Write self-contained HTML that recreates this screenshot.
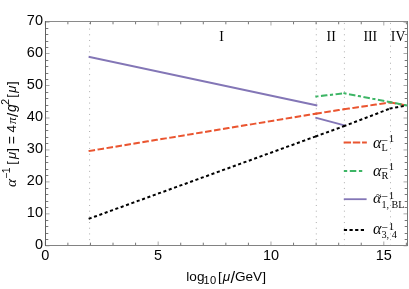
<!DOCTYPE html>
<html><head><meta charset="utf-8"><title>plot</title>
<style>
html,body{margin:0;padding:0;background:#fff;}
body{width:409px;height:289px;overflow:hidden;font-family:"Liberation Sans",sans-serif;}
svg{display:block;position:absolute;left:0;top:0;}
.k{font-family:"Liberation Sans",sans-serif;font-size:14.5px;fill:#000;}
.s{font-family:"Liberation Serif",serif;fill:#000;}
</style></head><body>
<svg width="409" height="289" viewBox="0 0 409 289">
<rect x="0" y="0" width="409" height="289" fill="#fff"/>
<line x1="89.6" y1="245.8" x2="89.6" y2="22" stroke="#adadad" stroke-width="1" stroke-dasharray="1 4.69"/>
<line x1="316.3" y1="245.8" x2="316.3" y2="22" stroke="#adadad" stroke-width="1" stroke-dasharray="1 4.69"/>
<line x1="344.4" y1="245.8" x2="344.4" y2="22" stroke="#adadad" stroke-width="1" stroke-dasharray="1 4.69"/>
<line x1="390.5" y1="245.8" x2="390.5" y2="22" stroke="#adadad" stroke-width="1" stroke-dasharray="1 4.69"/>
<line x1="45.33" y1="245.5" x2="45.33" y2="241.5" stroke="#a8a8a8" stroke-width="1"/>
<line x1="45.33" y1="21.5" x2="45.33" y2="25.5" stroke="#a8a8a8" stroke-width="1"/>
<line x1="67.89" y1="245.5" x2="67.89" y2="242.7" stroke="#777777" stroke-width="1"/>
<line x1="67.89" y1="21.5" x2="67.89" y2="24.3" stroke="#777777" stroke-width="1"/>
<line x1="90.46" y1="245.5" x2="90.46" y2="242.7" stroke="#777777" stroke-width="1"/>
<line x1="90.46" y1="21.5" x2="90.46" y2="24.3" stroke="#777777" stroke-width="1"/>
<line x1="113.03" y1="245.5" x2="113.03" y2="242.7" stroke="#777777" stroke-width="1"/>
<line x1="113.03" y1="21.5" x2="113.03" y2="24.3" stroke="#777777" stroke-width="1"/>
<line x1="135.59" y1="245.5" x2="135.59" y2="242.7" stroke="#777777" stroke-width="1"/>
<line x1="135.59" y1="21.5" x2="135.59" y2="24.3" stroke="#777777" stroke-width="1"/>
<line x1="158.16" y1="245.5" x2="158.16" y2="241.5" stroke="#a8a8a8" stroke-width="1"/>
<line x1="158.16" y1="21.5" x2="158.16" y2="25.5" stroke="#a8a8a8" stroke-width="1"/>
<line x1="180.72" y1="245.5" x2="180.72" y2="242.7" stroke="#777777" stroke-width="1"/>
<line x1="180.72" y1="21.5" x2="180.72" y2="24.3" stroke="#777777" stroke-width="1"/>
<line x1="203.29" y1="245.5" x2="203.29" y2="242.7" stroke="#777777" stroke-width="1"/>
<line x1="203.29" y1="21.5" x2="203.29" y2="24.3" stroke="#777777" stroke-width="1"/>
<line x1="225.85" y1="245.5" x2="225.85" y2="242.7" stroke="#777777" stroke-width="1"/>
<line x1="225.85" y1="21.5" x2="225.85" y2="24.3" stroke="#777777" stroke-width="1"/>
<line x1="248.42" y1="245.5" x2="248.42" y2="242.7" stroke="#777777" stroke-width="1"/>
<line x1="248.42" y1="21.5" x2="248.42" y2="24.3" stroke="#777777" stroke-width="1"/>
<line x1="270.98" y1="245.5" x2="270.98" y2="241.5" stroke="#a8a8a8" stroke-width="1"/>
<line x1="270.98" y1="21.5" x2="270.98" y2="25.5" stroke="#a8a8a8" stroke-width="1"/>
<line x1="293.55" y1="245.5" x2="293.55" y2="242.7" stroke="#777777" stroke-width="1"/>
<line x1="293.55" y1="21.5" x2="293.55" y2="24.3" stroke="#777777" stroke-width="1"/>
<line x1="316.11" y1="245.5" x2="316.11" y2="242.7" stroke="#777777" stroke-width="1"/>
<line x1="316.11" y1="21.5" x2="316.11" y2="24.3" stroke="#777777" stroke-width="1"/>
<line x1="338.68" y1="245.5" x2="338.68" y2="242.7" stroke="#777777" stroke-width="1"/>
<line x1="338.68" y1="21.5" x2="338.68" y2="24.3" stroke="#777777" stroke-width="1"/>
<line x1="361.24" y1="245.5" x2="361.24" y2="242.7" stroke="#777777" stroke-width="1"/>
<line x1="361.24" y1="21.5" x2="361.24" y2="24.3" stroke="#777777" stroke-width="1"/>
<line x1="383.81" y1="245.5" x2="383.81" y2="241.5" stroke="#a8a8a8" stroke-width="1"/>
<line x1="383.81" y1="21.5" x2="383.81" y2="25.5" stroke="#a8a8a8" stroke-width="1"/>
<line x1="406.37" y1="245.5" x2="406.37" y2="242.7" stroke="#777777" stroke-width="1"/>
<line x1="406.37" y1="21.5" x2="406.37" y2="24.3" stroke="#777777" stroke-width="1"/>
<line x1="45.5" y1="245.80" x2="49.5" y2="245.80" stroke="#a8a8a8" stroke-width="1"/>
<line x1="407.5" y1="245.80" x2="403.5" y2="245.80" stroke="#a8a8a8" stroke-width="1"/>
<line x1="45.5" y1="239.50" x2="48.3" y2="239.50" stroke="#777777" stroke-width="1"/>
<line x1="407.5" y1="239.50" x2="404.7" y2="239.50" stroke="#777777" stroke-width="1"/>
<line x1="45.5" y1="233.50" x2="48.3" y2="233.50" stroke="#777777" stroke-width="1"/>
<line x1="407.5" y1="233.50" x2="404.7" y2="233.50" stroke="#777777" stroke-width="1"/>
<line x1="45.5" y1="226.50" x2="48.3" y2="226.50" stroke="#777777" stroke-width="1"/>
<line x1="407.5" y1="226.50" x2="404.7" y2="226.50" stroke="#777777" stroke-width="1"/>
<line x1="45.5" y1="220.50" x2="48.3" y2="220.50" stroke="#777777" stroke-width="1"/>
<line x1="407.5" y1="220.50" x2="404.7" y2="220.50" stroke="#777777" stroke-width="1"/>
<line x1="45.5" y1="213.85" x2="49.5" y2="213.85" stroke="#a8a8a8" stroke-width="1"/>
<line x1="407.5" y1="213.85" x2="403.5" y2="213.85" stroke="#a8a8a8" stroke-width="1"/>
<line x1="45.5" y1="207.50" x2="48.3" y2="207.50" stroke="#777777" stroke-width="1"/>
<line x1="407.5" y1="207.50" x2="404.7" y2="207.50" stroke="#777777" stroke-width="1"/>
<line x1="45.5" y1="201.50" x2="48.3" y2="201.50" stroke="#777777" stroke-width="1"/>
<line x1="407.5" y1="201.50" x2="404.7" y2="201.50" stroke="#777777" stroke-width="1"/>
<line x1="45.5" y1="194.50" x2="48.3" y2="194.50" stroke="#777777" stroke-width="1"/>
<line x1="407.5" y1="194.50" x2="404.7" y2="194.50" stroke="#777777" stroke-width="1"/>
<line x1="45.5" y1="188.50" x2="48.3" y2="188.50" stroke="#777777" stroke-width="1"/>
<line x1="407.5" y1="188.50" x2="404.7" y2="188.50" stroke="#777777" stroke-width="1"/>
<line x1="45.5" y1="181.90" x2="49.5" y2="181.90" stroke="#a8a8a8" stroke-width="1"/>
<line x1="407.5" y1="181.90" x2="403.5" y2="181.90" stroke="#a8a8a8" stroke-width="1"/>
<line x1="45.5" y1="175.50" x2="48.3" y2="175.50" stroke="#777777" stroke-width="1"/>
<line x1="407.5" y1="175.50" x2="404.7" y2="175.50" stroke="#777777" stroke-width="1"/>
<line x1="45.5" y1="169.50" x2="48.3" y2="169.50" stroke="#777777" stroke-width="1"/>
<line x1="407.5" y1="169.50" x2="404.7" y2="169.50" stroke="#777777" stroke-width="1"/>
<line x1="45.5" y1="162.50" x2="48.3" y2="162.50" stroke="#777777" stroke-width="1"/>
<line x1="407.5" y1="162.50" x2="404.7" y2="162.50" stroke="#777777" stroke-width="1"/>
<line x1="45.5" y1="156.50" x2="48.3" y2="156.50" stroke="#777777" stroke-width="1"/>
<line x1="407.5" y1="156.50" x2="404.7" y2="156.50" stroke="#777777" stroke-width="1"/>
<line x1="45.5" y1="149.95" x2="49.5" y2="149.95" stroke="#a8a8a8" stroke-width="1"/>
<line x1="407.5" y1="149.95" x2="403.5" y2="149.95" stroke="#a8a8a8" stroke-width="1"/>
<line x1="45.5" y1="143.50" x2="48.3" y2="143.50" stroke="#777777" stroke-width="1"/>
<line x1="407.5" y1="143.50" x2="404.7" y2="143.50" stroke="#777777" stroke-width="1"/>
<line x1="45.5" y1="137.50" x2="48.3" y2="137.50" stroke="#777777" stroke-width="1"/>
<line x1="407.5" y1="137.50" x2="404.7" y2="137.50" stroke="#777777" stroke-width="1"/>
<line x1="45.5" y1="130.50" x2="48.3" y2="130.50" stroke="#777777" stroke-width="1"/>
<line x1="407.5" y1="130.50" x2="404.7" y2="130.50" stroke="#777777" stroke-width="1"/>
<line x1="45.5" y1="124.50" x2="48.3" y2="124.50" stroke="#777777" stroke-width="1"/>
<line x1="407.5" y1="124.50" x2="404.7" y2="124.50" stroke="#777777" stroke-width="1"/>
<line x1="45.5" y1="118.00" x2="49.5" y2="118.00" stroke="#a8a8a8" stroke-width="1"/>
<line x1="407.5" y1="118.00" x2="403.5" y2="118.00" stroke="#a8a8a8" stroke-width="1"/>
<line x1="45.5" y1="111.50" x2="48.3" y2="111.50" stroke="#777777" stroke-width="1"/>
<line x1="407.5" y1="111.50" x2="404.7" y2="111.50" stroke="#777777" stroke-width="1"/>
<line x1="45.5" y1="105.50" x2="48.3" y2="105.50" stroke="#777777" stroke-width="1"/>
<line x1="407.5" y1="105.50" x2="404.7" y2="105.50" stroke="#777777" stroke-width="1"/>
<line x1="45.5" y1="98.50" x2="48.3" y2="98.50" stroke="#777777" stroke-width="1"/>
<line x1="407.5" y1="98.50" x2="404.7" y2="98.50" stroke="#777777" stroke-width="1"/>
<line x1="45.5" y1="92.50" x2="48.3" y2="92.50" stroke="#777777" stroke-width="1"/>
<line x1="407.5" y1="92.50" x2="404.7" y2="92.50" stroke="#777777" stroke-width="1"/>
<line x1="45.5" y1="85.50" x2="49.5" y2="85.50" stroke="#a8a8a8" stroke-width="1"/>
<line x1="407.5" y1="85.50" x2="403.5" y2="85.50" stroke="#a8a8a8" stroke-width="1"/>
<line x1="45.5" y1="79.50" x2="48.3" y2="79.50" stroke="#777777" stroke-width="1"/>
<line x1="407.5" y1="79.50" x2="404.7" y2="79.50" stroke="#777777" stroke-width="1"/>
<line x1="45.5" y1="73.50" x2="48.3" y2="73.50" stroke="#777777" stroke-width="1"/>
<line x1="407.5" y1="73.50" x2="404.7" y2="73.50" stroke="#777777" stroke-width="1"/>
<line x1="45.5" y1="66.50" x2="48.3" y2="66.50" stroke="#777777" stroke-width="1"/>
<line x1="407.5" y1="66.50" x2="404.7" y2="66.50" stroke="#777777" stroke-width="1"/>
<line x1="45.5" y1="60.50" x2="48.3" y2="60.50" stroke="#777777" stroke-width="1"/>
<line x1="407.5" y1="60.50" x2="404.7" y2="60.50" stroke="#777777" stroke-width="1"/>
<line x1="45.5" y1="53.50" x2="49.5" y2="53.50" stroke="#a8a8a8" stroke-width="1"/>
<line x1="407.5" y1="53.50" x2="403.5" y2="53.50" stroke="#a8a8a8" stroke-width="1"/>
<line x1="45.5" y1="47.50" x2="48.3" y2="47.50" stroke="#777777" stroke-width="1"/>
<line x1="407.5" y1="47.50" x2="404.7" y2="47.50" stroke="#777777" stroke-width="1"/>
<line x1="45.5" y1="41.50" x2="48.3" y2="41.50" stroke="#777777" stroke-width="1"/>
<line x1="407.5" y1="41.50" x2="404.7" y2="41.50" stroke="#777777" stroke-width="1"/>
<line x1="45.5" y1="34.50" x2="48.3" y2="34.50" stroke="#777777" stroke-width="1"/>
<line x1="407.5" y1="34.50" x2="404.7" y2="34.50" stroke="#777777" stroke-width="1"/>
<line x1="45.5" y1="28.50" x2="48.3" y2="28.50" stroke="#777777" stroke-width="1"/>
<line x1="407.5" y1="28.50" x2="404.7" y2="28.50" stroke="#777777" stroke-width="1"/>
<line x1="45.5" y1="22.15" x2="49.5" y2="22.15" stroke="#a8a8a8" stroke-width="1"/>
<line x1="407.5" y1="22.15" x2="403.5" y2="22.15" stroke="#a8a8a8" stroke-width="1"/>
<line x1="89.6" y1="57.0" x2="316.3" y2="105.2" stroke="#8376b6" stroke-width="2.0" stroke-linecap="square"/>
<line x1="316.3" y1="117.9" x2="344.4" y2="125.4" stroke="#8376b6" stroke-width="2.0" stroke-linecap="square"/>
<line x1="89.6" y1="150.9" x2="316.3" y2="113.6" stroke="#ea5530" stroke-width="2.0" stroke-linecap="square" stroke-dasharray="4.54 4.54"/>
<line x1="316.3" y1="113.6" x2="344.4" y2="109.2" stroke="#ea5530" stroke-width="2.0" stroke-linecap="square" stroke-dasharray="4.54 4.54"/>
<line x1="344.4" y1="109.2" x2="390.5" y2="102.4" stroke="#ea5530" stroke-width="2.0" stroke-linecap="square" stroke-dasharray="4.54 4.54"/>
<line x1="390.5" y1="102.4" x2="406.4" y2="105.4" stroke="#ea5530" stroke-width="2.0" stroke-linecap="square" stroke-dasharray="4.54 4.54"/>
<line x1="316.3" y1="96.5" x2="344.4" y2="93.3" stroke="#3db565" stroke-width="2.0" stroke-linecap="square" stroke-dasharray="1.15 4.525 4.525 4.525"/>
<line x1="344.4" y1="93.3" x2="390.5" y2="102.2" stroke="#3db565" stroke-width="2.0" stroke-linecap="square" stroke-dasharray="1.15 4.525 4.525 4.525"/>
<line x1="390.5" y1="102.2" x2="406.4" y2="105.4" stroke="#3db565" stroke-width="2.0" stroke-linecap="square" stroke-dasharray="1.15 4.525 4.525 4.525"/>
<line x1="89.6" y1="218.5" x2="316.3" y2="136.2" stroke="#000" stroke-width="2.0" stroke-linecap="square" stroke-dasharray="1.1 4.58"/>
<line x1="316.3" y1="136.2" x2="344.4" y2="126.0" stroke="#000" stroke-width="2.0" stroke-linecap="square" stroke-dasharray="1.1 4.58"/>
<line x1="344.4" y1="126.0" x2="390.5" y2="108.4" stroke="#000" stroke-width="2.0" stroke-linecap="square" stroke-dasharray="1.1 4.58"/>
<line x1="390.5" y1="108.4" x2="406.4" y2="105.5" stroke="#000" stroke-width="2.0" stroke-linecap="square" stroke-dasharray="1.1 4.58"/>
<line x1="45" y1="21.5" x2="408" y2="21.5" stroke="#8a8a8a" stroke-width="1"/>
<line x1="45" y1="245.5" x2="408" y2="245.5" stroke="#828282" stroke-width="1"/>
<line x1="45.5" y1="21" x2="45.5" y2="246" stroke="#606060" stroke-width="1"/>
<line x1="407.5" y1="21" x2="407.5" y2="246" stroke="#787878" stroke-width="1"/>
<line x1="344.55" y1="142.5" x2="365.95" y2="142.5" stroke="#ea5530" stroke-width="1.8" stroke-linecap="square" stroke-dasharray="5.6 3.6"/>
<line x1="344.75" y1="171" x2="364" y2="171" stroke="#3db565" stroke-width="1.8" stroke-linecap="square" stroke-dasharray="1.55 4.4 4.7 4.4"/>
<line x1="344.7" y1="199.2" x2="365.7" y2="199.2" stroke="#8376b6" stroke-width="1.8" stroke-linecap="square"/>
<line x1="344.8" y1="230" x2="365.9" y2="230" stroke="#000" stroke-width="1.9" stroke-linecap="square" stroke-dasharray="1.3 4.35"/>
<g opacity="0.99" style="will-change:transform">
<text class="k" x="43" y="248.50" text-anchor="end">0</text>
<text class="k" x="43" y="216.55" text-anchor="end">10</text>
<text class="k" x="43" y="184.60" text-anchor="end">20</text>
<text class="k" x="43" y="152.65" text-anchor="end">30</text>
<text class="k" x="43" y="120.70" text-anchor="end">40</text>
<text class="k" x="43" y="88.75" text-anchor="end">50</text>
<text class="k" x="43" y="56.80" text-anchor="end">60</text>
<text class="k" x="43" y="24.85" text-anchor="end">70</text>
<text class="k" x="45.33" y="260" text-anchor="middle">0</text>
<text class="k" x="158.16" y="260" text-anchor="middle">5</text>
<text class="k" x="270.98" y="260" text-anchor="middle">10</text>
<text class="k" x="383.81" y="260" text-anchor="middle">15</text>
<text class="s" font-size="13.8" x="221.6" y="41" text-anchor="middle">I</text>
<text class="s" font-size="13.8" x="331.2" y="41" text-anchor="middle">II</text>
<text class="s" font-size="13.8" x="370.3" y="41" text-anchor="middle">III</text>
<text class="s" font-size="13.8" x="398.1" y="41" text-anchor="middle">IV</text>
<g transform="translate(0,280.8)"><text font-family="Liberation Sans" font-style="normal" font-size="13.6" x="186.30" y="0.00" fill="#000">log</text><text font-family="Liberation Sans" font-style="normal" font-size="10.8" x="203.60" y="3.60" fill="#000">1</text><text font-family="Liberation Sans" font-style="normal" font-size="11.2" x="210.00" y="3.60" fill="#000">0</text><text font-family="Liberation Sans" font-style="normal" font-size="13.6" x="217.90" y="0.00" fill="#000">[</text><text font-family="Liberation Sans" font-style="italic" font-size="13.6" x="222.80" y="0.00" fill="#000">μ</text><text font-family="Liberation Sans" font-style="normal" font-size="16.5" x="230.50" y="2.10" fill="#000">/</text><text font-family="Liberation Sans" font-style="normal" font-size="13.6" x="234.90" y="0.00" fill="#000">GeV</text><text font-family="Liberation Sans" font-style="normal" font-size="13.6" x="262.20" y="0.00" fill="#000">]</text></g>
<g transform="translate(16,186.5) rotate(-90)"><text font-family="Liberation Serif" font-style="italic" font-size="15.2" x="-0.45" y="0.00" fill="#000">α</text><text font-family="Liberation Sans" font-style="normal" font-size="10" x="8.30" y="-6.10" fill="#000">−</text><text font-family="Liberation Sans" font-style="normal" font-size="10.5" x="13.20" y="-6.30" fill="#000">1</text><text font-family="Liberation Sans" font-style="normal" font-size="13" x="21.70" y="0.00" fill="#000">[</text><text font-family="Liberation Sans" font-style="italic" font-size="13" x="27.40" y="0.00" fill="#000">μ</text><text font-family="Liberation Sans" font-style="normal" font-size="13" x="34.80" y="0.00" fill="#000">]</text><text font-family="Liberation Sans" font-style="normal" font-size="14" x="42.30" y="1.20" fill="#000">=</text><text font-family="Liberation Sans" font-style="normal" font-size="13.5" x="54.10" y="0.00" fill="#000">4</text><text font-family="Liberation Serif" font-style="italic" font-size="13.5" x="62.50" y="0.00" fill="#000">π</text><text font-family="Liberation Sans" font-style="normal" font-size="15" x="69.60" y="1.90" fill="#000">/</text><text font-family="Liberation Sans" font-style="italic" font-size="14" x="74.40" y="0.00" fill="#000">g</text><text font-family="Liberation Sans" font-style="normal" font-size="10.5" x="81.80" y="-6.70" fill="#000">2</text><text font-family="Liberation Sans" font-style="normal" font-size="13" x="88.80" y="0.00" fill="#000">[</text><text font-family="Liberation Sans" font-style="italic" font-size="13" x="93.80" y="0.00" fill="#000">μ</text><text font-family="Liberation Sans" font-style="normal" font-size="13" x="101.60" y="0.00" fill="#000">]</text></g>
<text class="s" font-style="italic" font-size="16.2" x="373.1" y="147.55">α</text><text class="s" font-size="10.3" x="381.4" y="150.95">L</text><text class="s" font-size="11.5" x="381.5" y="143.55">−</text><text class="s" font-size="10.8" x="388.7" y="142.15">1</text>
<text class="s" font-style="italic" font-size="16.2" x="373.1" y="175.55">α</text><text class="s" font-size="10.3" x="381.4" y="178.95">R</text><text class="s" font-size="11.5" x="381.5" y="171.55">−</text><text class="s" font-size="10.8" x="388.7" y="170.15">1</text>
<text class="s" font-style="italic" font-size="15.6" x="373.1" y="203.3">α</text><text class="s" font-size="10" x="375.9" y="197.90">~</text><text class="s" font-size="10.1" x="381.4" y="207.60">1, BL</text><text class="s" font-size="11.5" x="381.5" y="200.00">−</text><text class="s" font-size="10.8" x="388.7" y="198.50">1</text>
<text class="s" font-style="italic" font-size="16.2" x="373.1" y="234.45">α</text><text class="s" font-size="10.3" x="381.4" y="238.45">3, 4</text><text class="s" font-size="11.5" x="381.5" y="230.85">−</text><text class="s" font-size="10.8" x="388.7" y="230.05">1</text>
</g>
</svg>
</body></html>
